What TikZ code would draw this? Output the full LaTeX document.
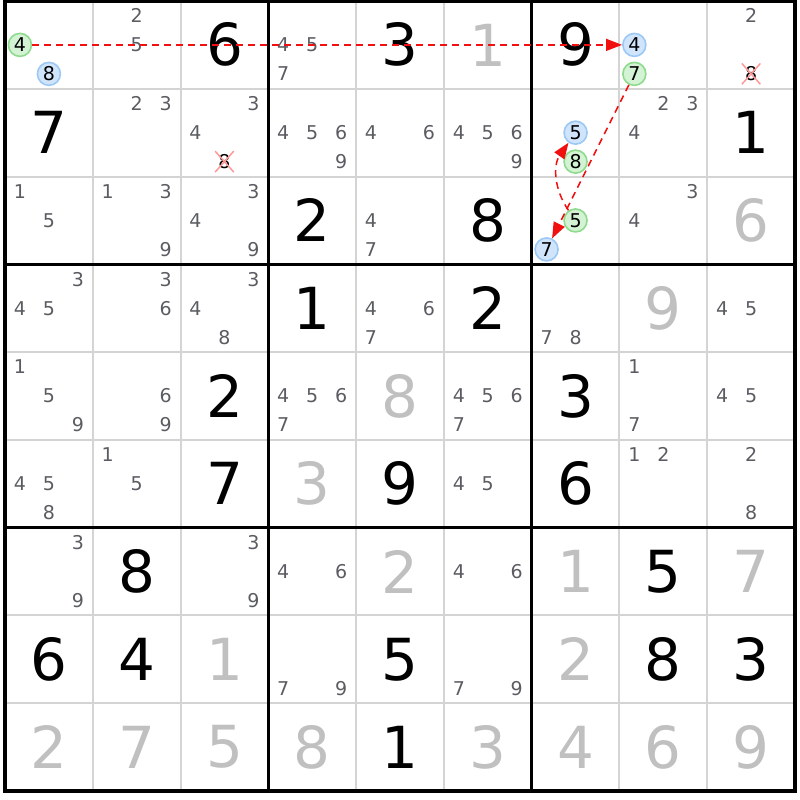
\documentclass[tikz,border=0pt]{standalone}
\usepackage{fontspec}
\setmainfont{DejaVu Sans}
\usetikzlibrary{arrows.meta,shapes.misc}
\definecolor{candgray}{HTML}{5A5C62}
\definecolor{solvedgray}{HTML}{C0C0C0}
\definecolor{cellgray}{HTML}{D4D4D4}
\definecolor{onfill}{HTML}{D4F2D4}
\definecolor{ondraw}{HTML}{8EDB8E}
\definecolor{offfill}{HTML}{D0E4FC}
\definecolor{offdraw}{HTML}{9CC8F6}
\definecolor{linkred}{HTML}{F01010}
\tikzset{
	given/.style={inner sep=0pt, text=black, font=\fontsize{58}{62}\selectfont},
	solved/.style={inner sep=0pt, text=solvedgray, font=\fontsize{58}{62}\selectfont},
	cand/.style={inner sep=0pt, text=candgray, font=\fontsize{19}{21}\selectfont},
	oncand/.style={circle, draw=ondraw, fill=onfill, line width=1.6pt, minimum size=23pt, inner sep=0pt, text=black, font=\fontsize{19}{21}\selectfont},
	offcand/.style={circle, draw=offdraw, fill=offfill, line width=1.6pt, minimum size=23pt, inner sep=0pt, text=black, font=\fontsize{19}{21}\selectfont},
	elim/.style={cross out, draw=red!40, line width=1.5pt, inner sep=2.5pt, text=black, font=\fontsize{19}{21}\selectfont},
	cellline/.style={draw=cellgray, line width=2pt},
	boxline/.style={draw=black, line width=3pt},
	link/.style={draw=linkred, line width=1.5pt, dash pattern=on 7pt off 5pt, -{Triangle[length=16pt, width=12pt]}}
}
\begin{document}
\begin{tikzpicture}[x=87.8pt, y=-87.8pt]
				\useasboundingbox (-0.057, -0.0114) rectangle (9.057, 9.1025);
				% thin cell lines
				\draw[cellline] (1, 0) -- (1, 9);
				\draw[cellline] (2, 0) -- (2, 9);
				\draw[cellline] (4, 0) -- (4, 9);
				\draw[cellline] (5, 0) -- (5, 9);
				\draw[cellline] (7, 0) -- (7, 9);
				\draw[cellline] (8, 0) -- (8, 9);
				\draw[cellline] (0, 1) -- (9, 1);
				\draw[cellline] (0, 2) -- (9, 2);
				\draw[cellline] (0, 4) -- (9, 4);
				\draw[cellline] (0, 5) -- (9, 5);
				\draw[cellline] (0, 7) -- (9, 7);
				\draw[cellline] (0, 8) -- (9, 8);
				% box lines
				\draw[boxline] (3, 0) -- (3, 9);
				\draw[boxline] (6, 0) -- (6, 9);
				\draw[boxline] (0, 3) -- (9, 3);
				\draw[boxline] (0, 6) -- (9, 6);
				\draw[draw=black, line width=4pt] (0, 0) rectangle (9, 9);
				% row 1
				\node[oncand] (r0c0n4)at(0.17, 0.5) {4};
				\node[offcand] (r0c0n8)at(0.5, 0.83) {8};
				\node[cand] (r0c1n2)at(1.5, 0.17) {2};
				\node[cand] (r0c1n5)at(1.5, 0.5) {5};
				\node[given] (r0c2)at(2.5, 0.5) {6};
				\node[cand] (r0c3n4)at(3.17, 0.5) {4};
				\node[cand] (r0c3n5)at(3.5, 0.5) {5};
				\node[cand] (r0c3n7)at(3.17, 0.83) {7};
				\node[given] (r0c4)at(4.5, 0.5) {3};
				\node[solved] (r0c5)at(5.5, 0.5) {1};
				\node[given] (r0c6)at(6.5, 0.5) {9};
				\node[offcand] (r0c7n4)at(7.17, 0.5) {4};
				\node[oncand] (r0c7n7)at(7.17, 0.83) {7};
				\node[cand] (r0c8n2)at(8.5, 0.17) {2};
				\node[elim] (r0c8n8)at(8.5, 0.83) {8};
				% row 2
				\node[given] (r1c0)at(0.5, 1.5) {7};
				\node[cand] (r1c1n2)at(1.5, 1.17) {2};
				\node[cand] (r1c1n3)at(1.83, 1.17) {3};
				\node[cand] (r1c2n3)at(2.83, 1.17) {3};
				\node[cand] (r1c2n4)at(2.17, 1.5) {4};
				\node[elim] (r1c2n8)at(2.5, 1.83) {8};
				\node[cand] (r1c3n4)at(3.17, 1.5) {4};
				\node[cand] (r1c3n5)at(3.5, 1.5) {5};
				\node[cand] (r1c3n6)at(3.83, 1.5) {6};
				\node[cand] (r1c3n9)at(3.83, 1.83) {9};
				\node[cand] (r1c4n4)at(4.17, 1.5) {4};
				\node[cand] (r1c4n6)at(4.83, 1.5) {6};
				\node[cand] (r1c5n4)at(5.17, 1.5) {4};
				\node[cand] (r1c5n5)at(5.5, 1.5) {5};
				\node[cand] (r1c5n6)at(5.83, 1.5) {6};
				\node[cand] (r1c5n9)at(5.83, 1.83) {9};
				\node[offcand] (r1c6n5)at(6.5, 1.5) {5};
				\node[oncand] (r1c6n8)at(6.5, 1.83) {8};
				\node[cand] (r1c7n2)at(7.5, 1.17) {2};
				\node[cand] (r1c7n3)at(7.83, 1.17) {3};
				\node[cand] (r1c7n4)at(7.17, 1.5) {4};
				\node[given] (r1c8)at(8.5, 1.5) {1};
				% row 3
				\node[cand] (r2c0n1)at(0.17, 2.17) {1};
				\node[cand] (r2c0n5)at(0.5, 2.5) {5};
				\node[cand] (r2c1n1)at(1.17, 2.17) {1};
				\node[cand] (r2c1n3)at(1.83, 2.17) {3};
				\node[cand] (r2c1n9)at(1.83, 2.83) {9};
				\node[cand] (r2c2n3)at(2.83, 2.17) {3};
				\node[cand] (r2c2n4)at(2.17, 2.5) {4};
				\node[cand] (r2c2n9)at(2.83, 2.83) {9};
				\node[given] (r2c3)at(3.5, 2.5) {2};
				\node[cand] (r2c4n4)at(4.17, 2.5) {4};
				\node[cand] (r2c4n7)at(4.17, 2.83) {7};
				\node[given] (r2c5)at(5.5, 2.5) {8};
				\node[oncand] (r2c6n5)at(6.5, 2.5) {5};
				\node[offcand] (r2c6n7)at(6.17, 2.83) {7};
				\node[cand] (r2c7n3)at(7.83, 2.17) {3};
				\node[cand] (r2c7n4)at(7.17, 2.5) {4};
				\node[solved] (r2c8)at(8.5, 2.5) {6};
				% row 4
				\node[cand] (r3c0n3)at(0.83, 3.17) {3};
				\node[cand] (r3c0n4)at(0.17, 3.5) {4};
				\node[cand] (r3c0n5)at(0.5, 3.5) {5};
				\node[cand] (r3c1n3)at(1.83, 3.17) {3};
				\node[cand] (r3c1n6)at(1.83, 3.5) {6};
				\node[cand] (r3c2n3)at(2.83, 3.17) {3};
				\node[cand] (r3c2n4)at(2.17, 3.5) {4};
				\node[cand] (r3c2n8)at(2.5, 3.83) {8};
				\node[given] (r3c3)at(3.5, 3.5) {1};
				\node[cand] (r3c4n4)at(4.17, 3.5) {4};
				\node[cand] (r3c4n6)at(4.83, 3.5) {6};
				\node[cand] (r3c4n7)at(4.17, 3.83) {7};
				\node[given] (r3c5)at(5.5, 3.5) {2};
				\node[cand] (r3c6n7)at(6.17, 3.83) {7};
				\node[cand] (r3c6n8)at(6.5, 3.83) {8};
				\node[solved] (r3c7)at(7.5, 3.5) {9};
				\node[cand] (r3c8n4)at(8.17, 3.5) {4};
				\node[cand] (r3c8n5)at(8.5, 3.5) {5};
				% row 5
				\node[cand] (r4c0n1)at(0.17, 4.17) {1};
				\node[cand] (r4c0n5)at(0.5, 4.5) {5};
				\node[cand] (r4c0n9)at(0.83, 4.83) {9};
				\node[cand] (r4c1n6)at(1.83, 4.5) {6};
				\node[cand] (r4c1n9)at(1.83, 4.83) {9};
				\node[given] (r4c2)at(2.5, 4.5) {2};
				\node[cand] (r4c3n4)at(3.17, 4.5) {4};
				\node[cand] (r4c3n5)at(3.5, 4.5) {5};
				\node[cand] (r4c3n6)at(3.83, 4.5) {6};
				\node[cand] (r4c3n7)at(3.17, 4.83) {7};
				\node[solved] (r4c4)at(4.5, 4.5) {8};
				\node[cand] (r4c5n4)at(5.17, 4.5) {4};
				\node[cand] (r4c5n5)at(5.5, 4.5) {5};
				\node[cand] (r4c5n6)at(5.83, 4.5) {6};
				\node[cand] (r4c5n7)at(5.17, 4.83) {7};
				\node[given] (r4c6)at(6.5, 4.5) {3};
				\node[cand] (r4c7n1)at(7.17, 4.17) {1};
				\node[cand] (r4c7n7)at(7.17, 4.83) {7};
				\node[cand] (r4c8n4)at(8.17, 4.5) {4};
				\node[cand] (r4c8n5)at(8.5, 4.5) {5};
				% row 6
				\node[cand] (r5c0n4)at(0.17, 5.5) {4};
				\node[cand] (r5c0n5)at(0.5, 5.5) {5};
				\node[cand] (r5c0n8)at(0.5, 5.83) {8};
				\node[cand] (r5c1n1)at(1.17, 5.17) {1};
				\node[cand] (r5c1n5)at(1.5, 5.5) {5};
				\node[given] (r5c2)at(2.5, 5.5) {7};
				\node[solved] (r5c3)at(3.5, 5.5) {3};
				\node[given] (r5c4)at(4.5, 5.5) {9};
				\node[cand] (r5c5n4)at(5.17, 5.5) {4};
				\node[cand] (r5c5n5)at(5.5, 5.5) {5};
				\node[given] (r5c6)at(6.5, 5.5) {6};
				\node[cand] (r5c7n1)at(7.17, 5.17) {1};
				\node[cand] (r5c7n2)at(7.5, 5.17) {2};
				\node[cand] (r5c8n2)at(8.5, 5.17) {2};
				\node[cand] (r5c8n8)at(8.5, 5.83) {8};
				% row 7
				\node[cand] (r6c0n3)at(0.83, 6.17) {3};
				\node[cand] (r6c0n9)at(0.83, 6.83) {9};
				\node[given] (r6c1)at(1.5, 6.5) {8};
				\node[cand] (r6c2n3)at(2.83, 6.17) {3};
				\node[cand] (r6c2n9)at(2.83, 6.83) {9};
				\node[cand] (r6c3n4)at(3.17, 6.5) {4};
				\node[cand] (r6c3n6)at(3.83, 6.5) {6};
				\node[solved] (r6c4)at(4.5, 6.5) {2};
				\node[cand] (r6c5n4)at(5.17, 6.5) {4};
				\node[cand] (r6c5n6)at(5.83, 6.5) {6};
				\node[solved] (r6c6)at(6.5, 6.5) {1};
				\node[given] (r6c7)at(7.5, 6.5) {5};
				\node[solved] (r6c8)at(8.5, 6.5) {7};
				% row 8
				\node[given] (r7c0)at(0.5, 7.5) {6};
				\node[given] (r7c1)at(1.5, 7.5) {4};
				\node[solved] (r7c2)at(2.5, 7.5) {1};
				\node[cand] (r7c3n7)at(3.17, 7.83) {7};
				\node[cand] (r7c3n9)at(3.83, 7.83) {9};
				\node[given] (r7c4)at(4.5, 7.5) {5};
				\node[cand] (r7c5n7)at(5.17, 7.83) {7};
				\node[cand] (r7c5n9)at(5.83, 7.83) {9};
				\node[solved] (r7c6)at(6.5, 7.5) {2};
				\node[given] (r7c7)at(7.5, 7.5) {8};
				\node[given] (r7c8)at(8.5, 7.5) {3};
				% row 9
				\node[solved] (r8c0)at(0.5, 8.5) {2};
				\node[solved] (r8c1)at(1.5, 8.5) {7};
				\node[solved] (r8c2)at(2.5, 8.5) {5};
				\node[solved] (r8c3)at(3.5, 8.5) {8};
				\node[given] (r8c4)at(4.5, 8.5) {1};
				\node[solved] (r8c5)at(5.5, 8.5) {3};
				\node[solved] (r8c6)at(6.5, 8.5) {4};
				\node[solved] (r8c7)at(7.5, 8.5) {6};
				\node[solved] (r8c8)at(8.5, 8.5) {9};
				% chain
				\draw[link] (r0c0n4) -- (r0c7n4);
				\draw[link] (r0c7n7) -- (r2c6n7);
				\draw[link] (r2c6n5) to[bend left=35] (r1c6n5);
			\end{tikzpicture}
\end{document}
